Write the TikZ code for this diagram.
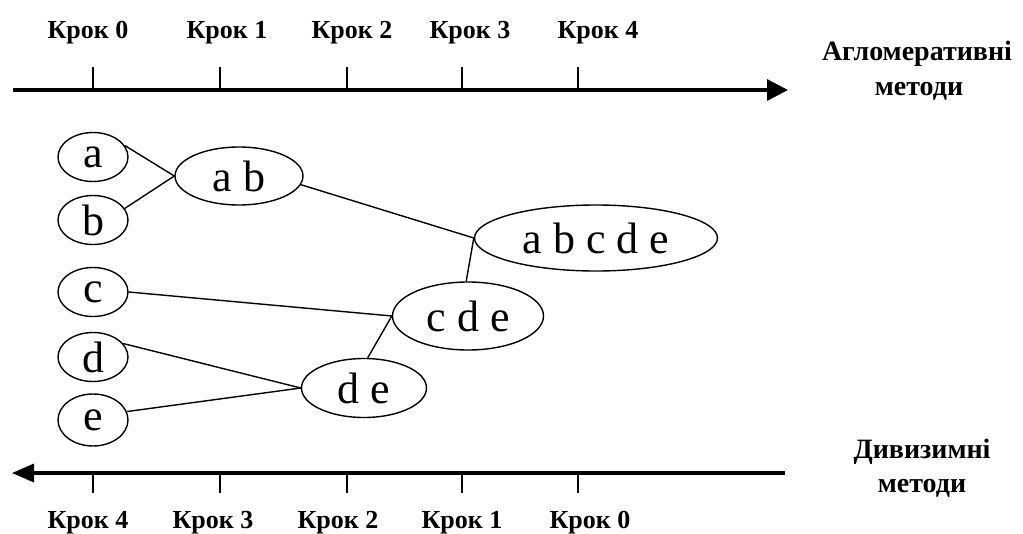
\documentclass[tikz,border=0pt]{standalone}
\usepackage{fontspec}
\setmainfont{Liberation Serif}
\usetikzlibrary{shapes.geometric,arrows.meta}

\tikzset{
  cluster/.style={draw, ellipse, line width=1.4pt, inner sep=0pt,
    font=\fontsize{44}{48}\selectfont},
  link/.style={line width=1.4pt},
  axis/.style={line width=3.4pt},
  tick/.style={line width=2pt},
  steplabel/.style={anchor=base, inner sep=0pt, font=\bfseries\fontsize{26}{30}\selectfont},
  methodlabel/.style={anchor=base, inner sep=0pt, font=\bfseries\fontsize{28}{32}\selectfont},
}

\begin{document}
\begin{tikzpicture}[x=1pt,y=-1pt]
\useasboundingbox (0,0) rectangle (1023,533);

% time axes
\coordinate (topL) at (13,90);
\coordinate (topR) at (788,90);
\coordinate (botL) at (12,473);
\coordinate (botR) at (785,473);
\draw[axis, -{Triangle[length=21pt,width=21pt]}] (topL) -- (topR);
\draw[axis, -{Triangle[length=22pt,width=18pt]}] (botR) -- (botL);

% ticks and step captions (upper axis counts forward, lower axis backward)
\foreach \k/\x/\tx/\bx/\r in {0/93/88/88/4, 1/220/227/213/3, 2/347/352/338/2, 3/462/470/462/1, 4/578/598/590/0}{
  \coordinate (tu\k) at (\x,67);
  \coordinate (td\k) at (\x,90);
  \draw[tick] (tu\k) -- (td\k);
  \coordinate (bu\k) at (\x,473);
  \coordinate (bd\k) at (\x,493);
  \draw[tick] (bu\k) -- (bd\k);
  \node[steplabel] (ts\k) at (\tx,38) {Крок \k};
  \node[steplabel] (bs\k) at (\bx,528) {Крок \r};
}

% method captions
\node[methodlabel] (agg1) at (917,60) {Агломеративні};
\node[methodlabel] (agg2) at (919,95) {методи};
\node[methodlabel] (div1) at (922,458) {Дивизимні};
\node[methodlabel] (div2) at (922,492) {методи};

% clusters
\node[cluster, minimum width=70pt, minimum height=49pt] (a) at (93,157) {a};
\node[cluster, minimum width=70pt, minimum height=49pt] (b) at (93,220) {b};
\node[cluster, minimum width=70pt, minimum height=49pt] (c) at (93,292) {c};
\node[cluster, minimum width=70pt, minimum height=49pt] (d) at (93,357) {d};
\node[cluster, minimum width=70pt, minimum height=52pt] (e) at (93,420) {e};
\node[cluster, minimum width=128pt, minimum height=58pt] (ab) at (239,176) {a b\hspace{6pt}};
\node[cluster, minimum width=125pt, minimum height=59pt] (de) at (364,388) {d e};
\node[cluster, minimum width=151pt, minimum height=68pt] (cde) at (468,316) {c d e};
\node[cluster, minimum width=243pt, minimum height=66pt] (abcde) at (596,238) {a b c d e\hspace{24pt}};

% merges
\draw[link] (a.20) -- (ab.west);
\draw[link] (b.20) -- (ab.west);
\draw[link] (ab.-8) -- (abcde.west);
\draw[link] (cde.93) -- (abcde.west);
\draw[link] (c.east) -- (cde.west);
\draw[link] (de.83) -- (cde.west);
\draw[link] (d.24) -- (de.west);
\draw[link] (e.14) -- (de.west);
\end{tikzpicture}
\end{document}
